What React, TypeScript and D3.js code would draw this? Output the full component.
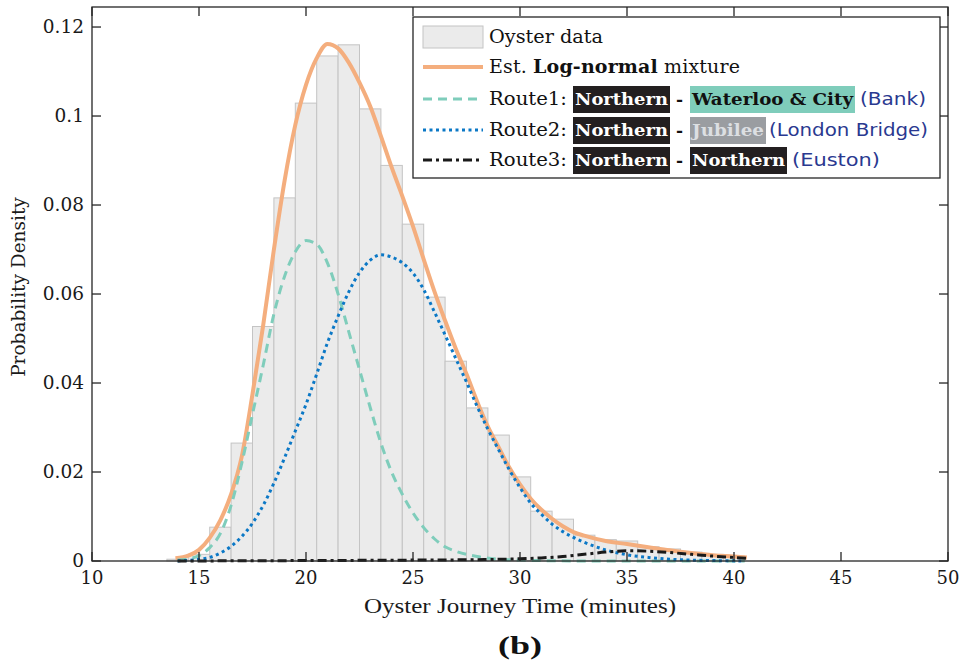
import React from 'react';
import * as d3 from 'd3';

// Histogram (bin centers in minutes, bin width 1 minute)
const binCenters = [14, 15, 16, 17, 18, 19, 20, 21, 22, 23, 24, 25, 26, 27, 28, 29, 30, 31, 32, 33, 34, 35, 36, 37, 38, 39, 40];
const binDensity = [0.0004, 0.0015, 0.0076, 0.0265, 0.0527, 0.0816, 0.1029, 0.1135, 0.116, 0.1016, 0.0889, 0.0757, 0.0593, 0.0449, 0.0344, 0.0283, 0.0189, 0.0112, 0.0094, 0.0058, 0.0048, 0.0045, 0.0032, 0.0027, 0.002, 0.0015, 0.0011];

// Est. log-normal mixture
const mixtureT = [13.9, 14.5, 15, 15.5, 16, 16.5, 17, 17.5, 18, 18.5, 19, 19.5, 20, 20.5, 21, 21.5, 22, 22.5, 23, 23.5, 24, 24.5, 25, 25.5, 26, 26.5, 27, 27.5, 28, 28.5, 29, 29.5, 30, 30.5, 31, 31.5, 32, 32.5, 33, 34, 35, 36, 37, 38, 39, 40, 40.6];
const mixtureV = [0.0006, 0.0012, 0.0025, 0.0052, 0.0092, 0.015, 0.0235, 0.0375, 0.053, 0.07, 0.0855, 0.098, 0.107, 0.113, 0.1162, 0.1152, 0.112, 0.1075, 0.1022, 0.0955, 0.0885, 0.082, 0.0752, 0.0678, 0.0606, 0.054, 0.0477, 0.042, 0.0358, 0.0302, 0.0256, 0.021, 0.0172, 0.014, 0.0115, 0.0095, 0.0078, 0.0065, 0.0057, 0.0045, 0.0038, 0.0031, 0.0024, 0.0018, 0.0013, 0.001, 0.0008];

// Route1: Northern - Waterloo & City (Bank)
const route1T = [14, 14.5, 15, 15.5, 16, 16.5, 17, 17.5, 18, 18.5, 19, 19.5, 20, 20.5, 21, 21.5, 22, 22.5, 23, 23.5, 24, 24.5, 25, 25.5, 26, 26.5, 27, 28, 29, 30, 31, 33, 36, 40.5];
const route1V = [0.0002, 0.0005, 0.0012, 0.003, 0.0062, 0.0125, 0.022, 0.033, 0.044, 0.0555, 0.064, 0.0695, 0.072, 0.0712, 0.067, 0.06, 0.0515, 0.043, 0.0345, 0.0265, 0.02, 0.015, 0.0108, 0.0075, 0.005, 0.0032, 0.0022, 0.001, 0.0004, 0.0002, 0.0001, 0, 0, 0];

// Route2: Northern - Jubilee (London Bridge)
const route2T = [14, 15, 15.5, 16, 16.5, 17, 17.5, 18, 18.5, 19, 19.5, 20, 20.5, 21, 21.5, 22, 22.5, 23, 23.5, 24, 24.5, 25, 25.5, 26, 26.5, 27, 27.5, 28, 28.5, 29, 29.5, 30, 30.5, 31, 31.5, 32, 32.5, 33, 34, 35, 36, 37, 38, 39, 40.5];
const route2V = [0, 0.0004, 0.0008, 0.0018, 0.0033, 0.0055, 0.0085, 0.0125, 0.0175, 0.0232, 0.0292, 0.0352, 0.042, 0.049, 0.055, 0.0605, 0.0648, 0.0676, 0.0688, 0.0683, 0.067, 0.0647, 0.061, 0.056, 0.0508, 0.0455, 0.0402, 0.0347, 0.0296, 0.025, 0.0205, 0.0165, 0.013, 0.0105, 0.0083, 0.0066, 0.0053, 0.0042, 0.0025, 0.0014, 0.0008, 0.0004, 0.0002, 0.0001, 0];

// Route3: Northern - Northern (Euston)
const route3T = [14, 20, 25, 28, 30, 31, 32, 33, 34, 35, 36, 37, 38, 39, 40, 40.6];
const route3V = [0, 0.0001, 0.0002, 0.0003, 0.0005, 0.0007, 0.001, 0.0015, 0.002, 0.0023, 0.0022, 0.0019, 0.0015, 0.0011, 0.0008, 0.0006];

const xTicks = [10, 15, 20, 25, 30, 35, 40, 45, 50];
const yTicks = [0, 0.02, 0.04, 0.06, 0.08, 0.1, 0.12];
const yTickLabels = ['0', '0.02', '0.04', '0.06', '0.08', '0.1', '0.12'];

const SERIF = "'DejaVu Serif', serif";
const SANS = "'DejaVu Sans', sans-serif";

export default function App() {
  const W = 959, H = 664;
  const left = 92, right = 948, top = 7, bottom = 561;
  const x = d3.scaleLinear().domain([10, 50]).range([left, right]);
  const y = d3.scaleLinear().domain([0, 0.1245]).range([bottom, top]);

  const line = d3.line<[number, number]>()
    .x(d => x(d[0]))
    .y(d => y(d[1]))
    .curve(d3.curveMonotoneX);

  const zip = (t: number[], v: number[]) => t.map((ti, i) => [ti, v[i]] as [number, number]);

  const axisColor = '#262626';
  const tickLen = 9;

  const orange = '#F4AE7E';
  const teal = '#7FCDBB';
  const blue = '#0B78C6';
  const black = '#1a1a1a';
  const navy = '#2A3990';

  // legend geometry
  const lgX0 = 413, lgY0 = 17, lgX1 = 940, lgY1 = 178;
  const rowY = [37, 67, 99, 130, 160];
  const sx0 = 423, sx1 = 483;
  const tx = 489;

  const boxH = 27;

  return (
    <svg width={W} height={H} style={{ position: 'absolute', left: 0, top: 0, background: '#fff' }}>
      <rect x={0} y={0} width={W} height={H} fill="#fff" />
      {/* histogram */}
      {binCenters.map((c, i) => (
        <rect key={'b' + i}
          x={x(c - 0.5)} y={y(binDensity[i])}
          width={x(c + 0.5) - x(c - 0.5)} height={y(0) - y(binDensity[i])}
          fill="#EBEBEB" stroke="#C4C4C4" strokeWidth={1} />
      ))}
      {/* curves */}
      <path d={line(zip(mixtureT, mixtureV)) || ''} fill="none" stroke={orange} strokeWidth={4} strokeLinejoin="round" />
      <path d={line(zip(route1T, route1V)) || ''} fill="none" stroke={teal} strokeWidth={3} strokeDasharray="9,6" />
      <path d={line(zip(route2T, route2V)) || ''} fill="none" stroke={blue} strokeWidth={3} strokeDasharray="3,3.5" />
      <path d={line(zip(route3T, route3V)) || ''} fill="none" stroke={black} strokeWidth={3} strokeDasharray="9,4,3,4" />

      {/* axes box */}
      <rect x={left} y={top} width={right - left} height={bottom - top} fill="none" stroke={axisColor} strokeWidth={1.3} />
      {xTicks.map((t, i) => (
        <g key={'xt' + i}>
          <line x1={x(t)} x2={x(t)} y1={bottom} y2={bottom - tickLen} stroke={axisColor} strokeWidth={1.3} />
          <line x1={x(t)} x2={x(t)} y1={top} y2={top + tickLen} stroke={axisColor} strokeWidth={1.3} />
          <text x={x(t)} y={584} textAnchor="middle" fontFamily={SERIF} fontSize={18} fill="#1a1a1a">{t}</text>
        </g>
      ))}
      {yTicks.map((v, i) => (
        <g key={'yt' + i}>
          <line x1={left} x2={left + tickLen} y1={y(v)} y2={y(v)} stroke={axisColor} strokeWidth={1.3} />
          <line x1={right} x2={right - tickLen} y1={y(v)} y2={y(v)} stroke={axisColor} strokeWidth={1.3} />
          <text x={84} y={y(v) + 6} textAnchor="end" fontFamily={SERIF} fontSize={18.5} fill="#1a1a1a">{yTickLabels[i]}</text>
        </g>
      ))}

      {/* axis titles */}
      <text x={520} y={613} textAnchor="middle" fontFamily="'Liberation Serif', serif" fontSize={21}
        textLength={312} lengthAdjust="spacingAndGlyphs" fill="#1a1a1a">Oyster Journey Time (minutes)</text>
      <text transform="translate(25,287) rotate(-90)" textAnchor="middle" fontFamily={SERIF} fontSize={18.5} fill="#1a1a1a">Probability Density</text>
      <text x={520} y={654} textAnchor="middle" fontFamily="'Liberation Serif', serif" fontWeight="bold" fontSize={25}
        textLength={44} lengthAdjust="spacingAndGlyphs" fill="#111">(b)</text>

      {/* legend */}
      <rect x={lgX0} y={lgY0} width={lgX1 - lgX0} height={lgY1 - lgY0} fill="#fff" stroke={axisColor} strokeWidth={1.3} />
      <rect x={sx0} y={rowY[0] - 11} width={sx1 - sx0} height={22} fill="#EBEBEB" stroke="#C4C4C4" strokeWidth={1} />
      <line x1={sx0} x2={sx1} y1={rowY[1]} y2={rowY[1]} stroke={orange} strokeWidth={4} />
      <line x1={sx0} x2={sx1} y1={rowY[2]} y2={rowY[2]} stroke={teal} strokeWidth={3} strokeDasharray="9,6" />
      <line x1={sx0} x2={sx1} y1={rowY[3]} y2={rowY[3]} stroke={blue} strokeWidth={3} strokeDasharray="3,3.5" />
      <line x1={sx0} x2={sx1} y1={rowY[4]} y2={rowY[4]} stroke={black} strokeWidth={3} strokeDasharray="9,4,3,4" />

      <g fontFamily={SERIF} fontSize={19} fill="#111">
        <text x={tx} y={rowY[0] + 6} textLength={114} lengthAdjust="spacingAndGlyphs">Oyster data</text>
        <text x={tx} y={rowY[1] + 6} textLength={251} lengthAdjust="spacing">Est. <tspan fontWeight="bold">Log-normal</tspan> mixture</text>
        <text x={tx} y={rowY[2] + 6} textLength={78} lengthAdjust="spacingAndGlyphs">Route1:</text>
        <text x={tx} y={rowY[3] + 6} textLength={78} lengthAdjust="spacingAndGlyphs">Route2:</text>
        <text x={tx} y={rowY[4] + 6} textLength={78} lengthAdjust="spacingAndGlyphs">Route3:</text>
      </g>

      {/* Row 3 */}
      <rect x={573} y={rowY[2] - 13} width={97} height={boxH} fill="#231F20" />
      <text x={575} y={rowY[2] + 6} fontFamily={SERIF} fontWeight="bold" fontSize={17.5} fill="#fff" textLength={93} lengthAdjust="spacingAndGlyphs">Northern</text>
      <text x={676} y={rowY[2] + 6} fontFamily={SERIF} fontWeight="bold" fontSize={17} fill="#111">-</text>
      <rect x={690} y={rowY[2] - 13} width={165} height={boxH} fill="#7FCDBB" />
      <text x={692} y={rowY[2] + 6} fontFamily={SERIF} fontWeight="bold" fontSize={17.5} fill="#111" textLength={161} lengthAdjust="spacingAndGlyphs">Waterloo &amp; City</text>
      <text x={860} y={rowY[2] + 6} fontFamily={SANS} fontSize={18} fill={navy} textLength={66} lengthAdjust="spacingAndGlyphs">(Bank)</text>

      {/* Row 4 */}
      <rect x={573} y={rowY[3] - 13} width={97} height={boxH} fill="#231F20" />
      <text x={575} y={rowY[3] + 6} fontFamily={SERIF} fontWeight="bold" fontSize={17.5} fill="#fff" textLength={93} lengthAdjust="spacingAndGlyphs">Northern</text>
      <text x={676} y={rowY[3] + 6} fontFamily={SERIF} fontWeight="bold" fontSize={17} fill="#111">-</text>
      <rect x={690} y={rowY[3] - 13} width={76} height={boxH} fill="#9A9DA1" />
      <text x={692} y={rowY[3] + 6} fontFamily={SERIF} fontWeight="bold" fontSize={17.5} fill="#DCDFE2" textLength={72} lengthAdjust="spacingAndGlyphs">Jubilee</text>
      <text x={769} y={rowY[3] + 6} fontFamily={SANS} fontSize={18} fill={navy} textLength={159} lengthAdjust="spacingAndGlyphs">(London Bridge)</text>

      {/* Row 5 */}
      <rect x={573} y={rowY[4] - 13} width={97} height={boxH} fill="#231F20" />
      <text x={575} y={rowY[4] + 6} fontFamily={SERIF} fontWeight="bold" fontSize={17.5} fill="#fff" textLength={93} lengthAdjust="spacingAndGlyphs">Northern</text>
      <text x={676} y={rowY[4] + 6} fontFamily={SERIF} fontWeight="bold" fontSize={17} fill="#111">-</text>
      <rect x={690} y={rowY[4] - 13} width={97} height={boxH} fill="#231F20" />
      <text x={692} y={rowY[4] + 6} fontFamily={SERIF} fontWeight="bold" fontSize={17.5} fill="#fff" textLength={93} lengthAdjust="spacingAndGlyphs">Northern</text>
      <text x={792} y={rowY[4] + 6} fontFamily={SANS} fontSize={18} fill={navy} textLength={88} lengthAdjust="spacingAndGlyphs">(Euston)</text>
    </svg>
  );
}
